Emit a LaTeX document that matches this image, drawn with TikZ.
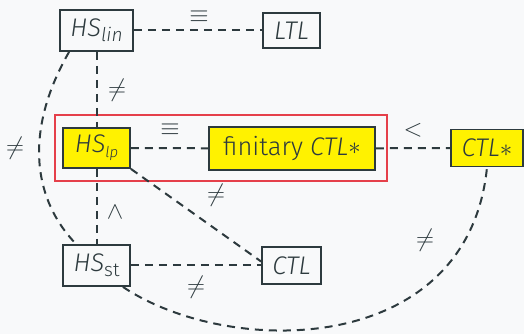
\documentclass[tikz,border=0pt]{standalone}
\usepackage{fontspec}
\setmainfont{Fira Sans}[UprightFont={* Light},ItalicFont={* Light Italic}]
\definecolor{bgc}{HTML}{F8F9FA}
\definecolor{ink}{HTML}{2D3A3E}
\definecolor{hl}{HTML}{FFF200}
\definecolor{frame}{HTML}{E5404A}
\newcommand\hsname[2]{\textit{HS}\raisebox{-0.35ex}{\fontsize{#2}{#2}\selectfont #1}}
\newcommand\starop{\raisebox{0.05ex}{$\ast$}}
\tikzset{
  box/.style={draw=ink, line width=1.8pt, inner sep=0pt, text=ink,
    font=\fontsize{25.5}{30}\selectfont},
  hlbox/.style={box, fill=hl},
  dl/.style={draw=ink, line width=2pt, dash pattern=on 8pt off 6pt},
  rel/.style={text=ink, font=\fontsize{25}{29}\selectfont, inner sep=0pt}
}
\begin{document}
\begin{tikzpicture}[x=1pt,y=1pt]
\fill[bgc] (0,0) rectangle (524,334);
\useasboundingbox (0,0) rectangle (524,334);

% highlighted group
\draw[frame, line width=1.2pt] (55,153) rectangle (387,219);

% nodes
\node[box, minimum width=73pt, minimum height=41pt] (lin) at (96.5,303.5) {\hsname{\itshape lin}{19}};
\node[box, minimum width=57pt, minimum height=35pt] (ltl) at (291.5,303.5) {\textit{LTL}};
\node[hlbox, minimum width=67pt, minimum height=40pt] (lp) at (96.5,186) {\hsname{\itshape lp}{15}};
\node[hlbox, minimum width=166pt, minimum height=43pt] (fin) at (292,185.5) {finitary \textit{CTL}\starop};
\node[hlbox, minimum width=72pt, minimum height=37pt] (ctls) at (487,186) {\textit{CTL}\starop};
\node[box, minimum width=67pt, minimum height=41pt] (st) at (96.5,68.5) {\hsname{st}{19}};
\node[box, minimum width=59pt, minimum height=37pt] (ctl) at (291.5,68.5) {\textit{CTL}};

% connectors
\draw[dl] (lin) -- (ltl);
\draw[dl] (lin) -- (lp);
\draw[dl] (lp) -- (fin);
\draw[dl] (fin) -- (ctls);
\draw[dl] (lp) -- (st);
\draw[dl] (st) -- (ctl);
\draw[dl] (lp.south east) -- ([yshift=4pt]ctl.west);
\draw[dl] ([xshift=10pt]lin.south west) .. controls (27,209) and (29,139) .. ([xshift=14pt]st.north west);
\draw[dl] ([xshift=-8pt]st.south east) .. controls (230,-24.5) and (468,-23) .. (ctls.south);

% relation labels
\node[rel] (r1) at (199,317.5) {$\equiv$};
\node[rel] (r2) at (117,244) {$\neq$};
\node[rel] (r3) at (170,204) {$\equiv$};
\node[rel] (r4) at (413,204) {$<$};
\node[rel, rotate=-90] (r5) at (115,122) {$<$};
\node[rel] (r6) at (216,139) {$\neq$};
\node[rel] (r7) at (15,186) {$\neq$};
\node[rel] (r8) at (196,47) {$\neq$};
\node[rel] (r9) at (425,94) {$\neq$};
\end{tikzpicture}
\end{document}
